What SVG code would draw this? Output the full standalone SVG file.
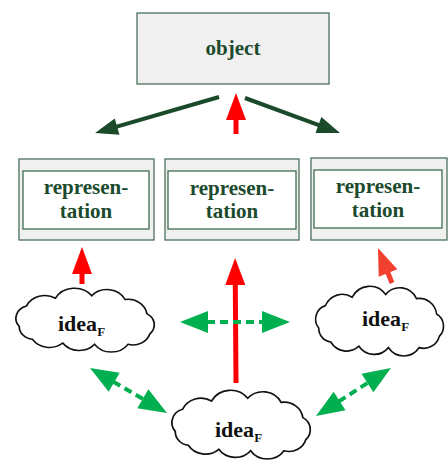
<svg xmlns="http://www.w3.org/2000/svg" width="448" height="462" viewBox="0 0 448 462">
<style>
.outer{fill:#f0f0f0;stroke:#4a7059;stroke-width:1.3}
.inner{fill:#ffffff;stroke:#3f6a50;stroke-width:1.3}
.lbl{font-family:"Liberation Serif","Times New Roman",serif;font-weight:bold;font-size:21px;fill:#1c4a2c;text-anchor:middle}
.idea{font-family:"Liberation Serif","Times New Roman",serif;font-weight:bold;font-size:22px;fill:#111}
.sub{font-size:13px}
.cloud{fill:#fff;stroke:#111;stroke-width:1.6}
.dg{stroke:#1a4a2a;stroke-width:4;fill:none;marker-end:url(#mDG)}
.rd{stroke:#ff0000;stroke-width:5;fill:none;marker-end:url(#mR)}
.or{stroke:#f2402e;stroke-width:5;fill:none;marker-end:url(#mO)}
.gr{stroke:#00b050;stroke-width:4;fill:none;stroke-dasharray:8 5;marker-start:url(#mG);marker-end:url(#mG)}
</style>
<defs>
<marker id="mDG" markerUnits="userSpaceOnUse" markerWidth="23" markerHeight="17" refX="12" refY="8.5" orient="auto" overflow="visible"><path d="M0,0 L23,8.5 L0,17 z" fill="#1a4a2a"/></marker>
<marker id="mR" markerUnits="userSpaceOnUse" markerWidth="27" markerHeight="20" refX="14" refY="10" orient="auto" overflow="visible"><path d="M0,0 L27,10 L0,20 z" fill="#ff0000"/></marker>
<marker id="mO" markerUnits="userSpaceOnUse" markerWidth="27" markerHeight="20" refX="14" refY="10" orient="auto" overflow="visible"><path d="M0,0 L27,10 L0,20 z" fill="#f2402e"/></marker>
<marker id="mG" markerUnits="userSpaceOnUse" markerWidth="28" markerHeight="22" refX="14" refY="11" orient="auto-start-reverse" overflow="visible"><path d="M0,0 L28,11 L0,22 z" fill="#00b050"/></marker>
<path id="cloudShape" d="M5,30 A10,10 0 0 1 10,14 A14,14 0 0 1 30,8 A15,15 0 0 1 55,6 A14,14 0 0 1 78,9 A13,13 0 0 1 93,20 A10,10 0 0 1 95,36 A12,12 0 0 1 80,44 A14,14 0 0 1 57,44 A14,14 0 0 1 35,43 A14,14 0 0 1 14,40 A10,10 0 0 1 5,30 Z"/>
</defs>

<g id="object">
<rect class="outer" x="137" y="13" width="192" height="71"/>
<text class="lbl" x="233" y="55">object</text>
</g>

<g id="rep-left">
<rect class="outer" x="19" y="159" width="135" height="81"/>
<rect class="inner" x="23" y="171" width="126" height="58"/>
<text class="lbl" x="86" y="194">represen-</text>
<text class="lbl" x="86" y="218">tation</text>
</g>

<g id="rep-middle">
<rect class="outer" x="165" y="159" width="134" height="81"/>
<rect class="inner" x="168" y="171" width="128" height="58"/>
<text class="lbl" x="232" y="195">represen-</text>
<text class="lbl" x="232" y="218">tation</text>
</g>

<g id="rep-right">
<rect class="outer" x="311" y="158" width="136" height="82"/>
<rect class="inner" x="314" y="170" width="128" height="58"/>
<text class="lbl" x="378" y="193">represen-</text>
<text class="lbl" x="378" y="217">tation</text>
</g>

<g id="idea-left">
<use href="#cloudShape" class="cloud" transform="translate(12,288) scale(1.45,1.28)" vector-effect="non-scaling-stroke" style="stroke-width:1.2"/>
<text class="idea" x="58" y="331">idea<tspan class="sub" dy="5">F</tspan></text>
</g>

<g id="idea-right">
<use href="#cloudShape" class="cloud" transform="translate(312,286) scale(1.34,1.4)" style="stroke-width:1.2"/>
<text class="idea" x="362" y="326">idea<tspan class="sub" dy="5">F</tspan></text>
</g>

<g id="idea-bottom">
<use href="#cloudShape" class="cloud" transform="translate(168,390) scale(1.45,1.38)" style="stroke-width:1.2"/>
<text class="idea" x="215" y="437">idea<tspan class="sub" dy="5">F</tspan></text>
</g>

<g id="connectors">
<line class="dg" x1="219" y1="97" x2="105.6" y2="129.9"/>
<line class="dg" x1="245" y1="98" x2="329.7" y2="129.2"/>
<line class="rd" x1="236" y1="134" x2="236" y2="106"/>
<line class="rd" x1="82" y1="284" x2="82" y2="260"/>
<line class="rd" x1="236" y1="383" x2="235.2" y2="271"/>
<line class="or" x1="392" y1="283" x2="382.8" y2="260.1"/>
<line class="gr" x1="194" y1="322" x2="276" y2="322"/>
<line class="gr" x1="102.1" y1="375.1" x2="154.9" y2="405.9"/>
<line class="gr" x1="327.8" y1="408.5" x2="379.2" y2="375.5"/>
</g>
</svg>
